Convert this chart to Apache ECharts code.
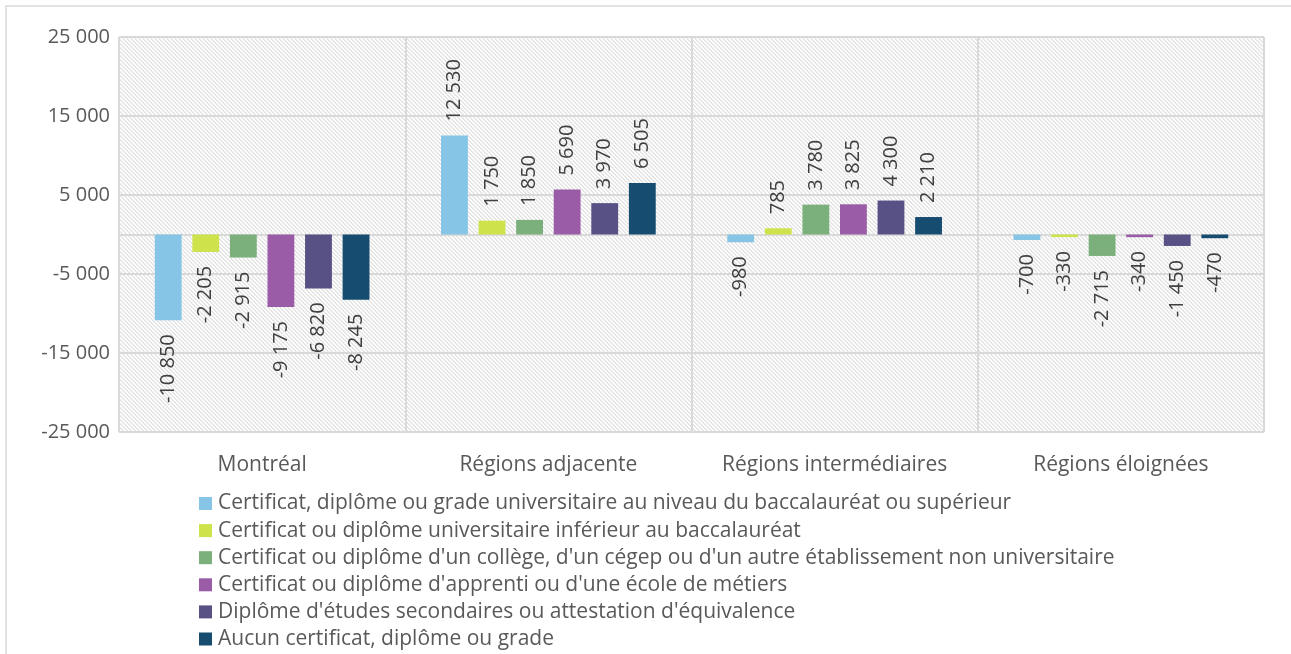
<!DOCTYPE html>
<html>
<head>
<meta charset="utf-8">
<script src="https://cdn.jsdelivr.net/npm/echarts@6/dist/echarts.min.js"></script>
<style>
html,body{margin:0;padding:0;background:#fff;}
#chart{width:1291px;height:654px;}
</style>
</head>
<body>
<div id="chart"></div>
<script>
var categories = ['Montréal', 'Régions adjacente', 'Régions intermédiaires', 'Régions éloignées'];
var seriesNames = [
  'Certificat, diplôme ou grade universitaire au niveau du baccalauréat ou supérieur',
  'Certificat ou diplôme universitaire inférieur au baccalauréat',
  "Certificat ou diplôme d'un collège, d'un cégep ou d'un autre établissement non universitaire",
  "Certificat ou diplôme d'apprenti ou d'une école de métiers",
  "Diplôme d'études secondaires ou attestation d'équivalence",
  'Aucun certificat, diplôme ou grade'
];
var universitaire = [-10850, 12530, -980, -700];
var infBac = [-2205, 1750, 785, -330];
var college = [-2915, 1850, 3780, -2715];
var apprenti = [-9175, 5690, 3825, -340];
var secondaire = [-6820, 3970, 4300, -1450];
var aucun = [-8245, 6505, 2210, -470];
var yTicks = [-25000, -15000, -5000, 5000, 15000, 25000];

var colors = ['#86C5E5', '#CDE24B', '#7BAF7C', '#9A5CA6', '#575186', '#154C6F'];
var allData = [universitaire, infBac, college, apprenti, secondaire, aucun];

function fmt(v) {
  var s = String(Math.abs(v)).replace(/\B(?=(\d{3})+(?!\d))/g, '\u00a0');
  return (v < 0 ? '-' : '') + s;
}

// hatch pattern (downward diagonal)
var P = 4;
var pc = document.createElement('canvas');
pc.width = P; pc.height = P;
var pctx = pc.getContext('2d');
pctx.fillStyle = '#ffffff';
pctx.fillRect(0, 0, P, P);
pctx.fillStyle = '#e5e5e5';
for (var y = 0; y < P; y++) {
  pctx.fillRect(y, y, 1, 1);
  pctx.fillRect((y + 1) % P, y, 1, 1);
}

var FONT = 'Open Sans';
var series = allData.map(function (arr, i) {
  return {
    name: seriesNames[i],
    type: 'bar',
    xAxisIndex: 0,
    barGap: '40%',
    barCategoryGap: '25%',
    itemStyle: { color: colors[i] },
    label: {
      show: true,
      position: 'outside',
      rotate: 90,
      verticalAlign: 'middle',
      distance: 14,
      color: '#404040',
      fontFamily: FONT,
      fontSize: 20,
      formatter: function (p) { return fmt(p.value); }
    },
    data: arr.map(function (v) {
      return { value: v, label: { align: v >= 0 ? 'left' : 'right' } };
    })
  };
});

var legends = seriesNames.map(function (name, i) {
  return {
    orient: 'vertical',
    left: 199,
    top: 493 + i * 27.1,
    padding: 0,
    itemWidth: 13,
    itemHeight: 13,
    itemGap: 0,
    icon: 'rect',
    textStyle: { fontFamily: FONT, fontSize: 21, color: '#595959', padding: [0, 0, 0, 1] },
    data: [name]
  };
});

var chart = echarts.init(document.getElementById('chart'), null, { renderer: 'canvas' });
chart.setOption({
  animation: false,
  color: colors,
  graphic: [{
    type: 'rect',
    shape: { x: 6, y: 6, width: 1400, height: 800 },
    style: { fill: 'none', stroke: '#d9d9d9', lineWidth: 1.5 },
    silent: true,
    z: -10
  }],
  grid: {
    left: 119, right: 27, top: 37, bottom: 222,
    show: true,
    backgroundColor: { image: pc, repeat: 'repeat' },
    borderWidth: 0
  },
  legend: legends,
  xAxis: [{
    type: 'category',
    data: categories,
    position: 'bottom',
    axisLine: { show: false, onZero: false },
    axisTick: { show: false },
    splitLine: { show: true, interval: 0, lineStyle: { color: '#d9d9d9', width: 2 } },
    axisLabel: { interval: 0, fontFamily: FONT, fontSize: 21, color: '#595959', margin: 23 }
  }, {
    type: 'category',
    data: categories,
    position: 'bottom',
    axisLine: { show: true, onZero: true, lineStyle: { color: '#d9d9d9', width: 2 } },
    axisTick: { show: false },
    axisLabel: { show: false },
    splitLine: { show: false }
  }],
  yAxis: {
    type: 'value',
    min: yTicks[0],
    max: yTicks[yTicks.length - 1],
    interval: yTicks[1] - yTicks[0],
    axisLine: { show: false },
    axisTick: { show: false },
    splitLine: { show: true, lineStyle: { color: '#d9d9d9', width: 2 } },
    axisLabel: {
      fontFamily: FONT, fontSize: 20, color: '#595959', margin: 9,
      formatter: function (v) { return fmt(v); }
    }
  },
  series: series
});
</script>
</body>
</html>
